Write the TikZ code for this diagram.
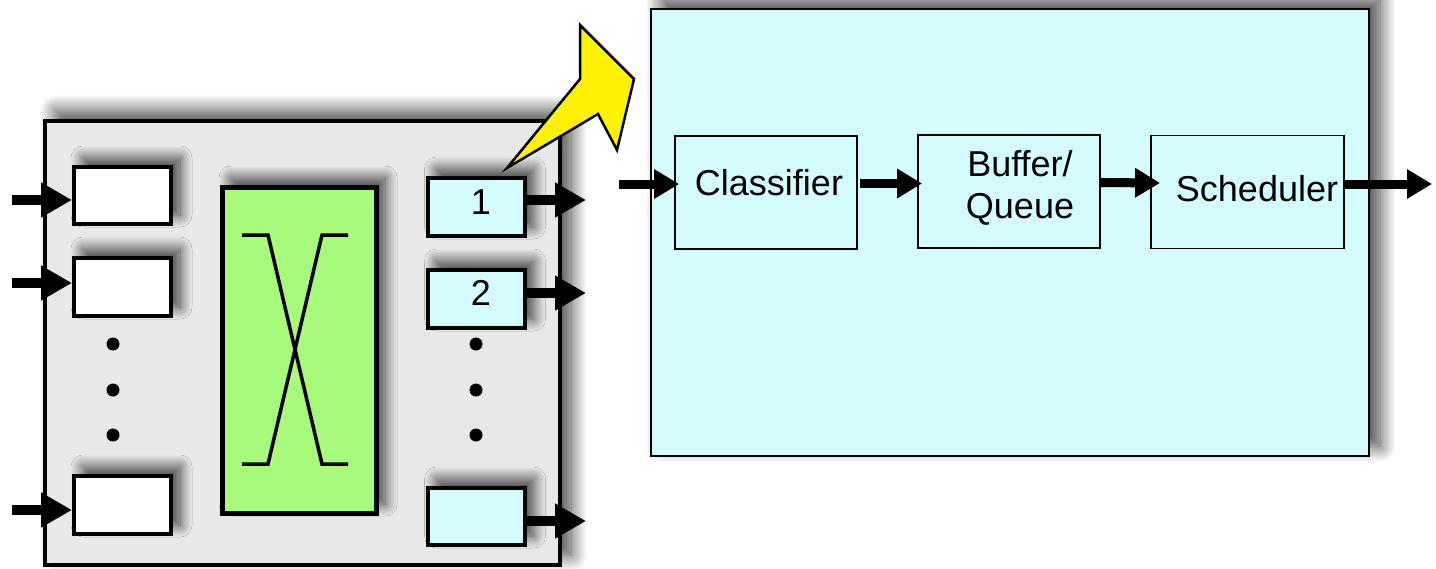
\documentclass[tikz,border=0pt]{standalone}
\usepackage{fontspec}
\setmainfont{Liberation Sans}
\usetikzlibrary{arrows.meta,shadows.blur,calc}

\definecolor{panelgray}{RGB}{232,232,232}
\definecolor{portcyan}{RGB}{212,252,252}
\definecolor{fabricgreen}{RGB}{168,250,122}

\tikzset{
  softshadow/.style={blur shadow={shadow xshift=9pt, shadow yshift=9pt,
      shadow blur radius=12pt, shadow blur steps=30, shadow opacity=75}},
  bigshadow/.style={blur shadow={shadow xshift=11pt, shadow yshift=10pt,
      shadow blur radius=16pt, shadow blur steps=30, shadow opacity=75}},
  portbox/.style={draw, line width=4pt, minimum width=97pt, inner sep=0pt, softshadow},
  stagebox/.style={draw, line width=1.8pt, fill=portcyan, inner sep=0pt,
      minimum height=113pt},
  fatarrow/.style={line width=10pt, -{Triangle[length=31pt,width=33pt]}},
  flowarrow/.style={line width=9pt, -{Triangle[length=25pt,width=28pt]}},
  lbl/.style={font=\fontsize{36}{42}\selectfont, inner sep=0pt, align=center},
}

\begin{document}
\begin{tikzpicture}[x=1pt,y=-1pt]
\useasboundingbox (0,0) rectangle (1436,568);

% router chassis
\node[draw, line width=4pt, fill=panelgray, minimum width=515pt,
      minimum height=444pt, inner sep=0pt, bigshadow] (router) at (302.5,343) {};

% input ports
\node[portbox, fill=white, minimum height=57pt] (in1) at (122.5,195.5) {};
\node[portbox, fill=white, minimum height=58pt] (in2) at (122.5,287) {};
\node[portbox, fill=white, minimum height=58pt] (in3) at (122.5,505) {};

% switching fabric
\node[draw, line width=5pt, fill=fabricgreen, minimum width=154pt,
      minimum height=326pt, inner sep=0pt, softshadow] (fabric) at (299,350) {};
\draw[line width=3.5pt] (242,235) -- (268,235) -- (322,464) -- (348,464);
\draw[line width=3.5pt] (242,464) -- (268,464) -- (322,235) -- (348,235);

% output ports
\node[portbox, fill=portcyan, minimum height=58pt] (out1) at (476,207) {};
\node[portbox, fill=portcyan, minimum height=58pt] (out2) at (476,299) {};
\node[portbox, fill=portcyan, minimum height=57pt] (out3) at (476,516.5) {};
\node[lbl] (n1) at (481,202) {1};
\node[lbl] (n2) at (481,293) {2};

% ellipsis dots
\foreach \yy in {344,390,435} {
  \fill (113,\yy) circle (6.5pt);
  \fill (476,\yy) circle (6.5pt);
}

% input and output links
\coordinate (ia1) at (12,200);
\coordinate (ia2) at (12,283);
\coordinate (ia3) at (12,510);
\draw[fatarrow] (ia1) -- (ia1 -| in1.west);
\draw[fatarrow] (ia2) -- (ia2 -| in2.west);
\draw[fatarrow] (ia3) -- (ia3 -| in3.west);
\coordinate (oa1) at (586,200);
\coordinate (oa2) at (586,293);
\coordinate (oa3) at (586,521);
\draw[fatarrow] (oa1 -| out1.east) -- (oa1);
\draw[fatarrow] (oa2 -| out2.east) -- (oa2);
\draw[fatarrow] (oa3 -| out3.east) -- (oa3);

% zoom callout
\draw[line width=2.5pt, fill=yellow, line join=miter]
  (507,168) -- (580,79) -- (580,25) -- (634,79) -- (617,150) -- (598,114) -- cycle;

% output port detail
\node[draw, line width=2pt, fill=portcyan, minimum width=718pt,
      minimum height=447pt, inner sep=0pt, bigshadow] (detail) at (1010,232.5) {};
\node[stagebox, minimum width=182pt] (cls) at (766,192.5) {};
\node[stagebox, minimum width=182pt] (buf) at (1009,191.5) {};
\node[stagebox, minimum width=193pt] (sch) at (1247.5,192) {};
\node[lbl] (clst) at (769,183) {Classifier};
\node[lbl] (buft) at (1020,188) {Buffer/\\Queue};
\node[lbl] (scht) at (1257,189) {Scheduler};

\coordinate (pin) at (619,184);
\coordinate (pout) at (1432,184);
\draw[flowarrow] (pin) -- ($(pin -| cls.west)+(5,0)$);
\draw[flowarrow] ($(cls.east)+(2,-9)$) -- ($(buf.west)+(5,-8)$);
\draw[flowarrow] ($(buf.east)+(0,-9)$) -- ($(sch.west)+(10,-9)$);
\draw[flowarrow] (pout -| sch.east) -- (pout);
\end{tikzpicture}
\end{document}
